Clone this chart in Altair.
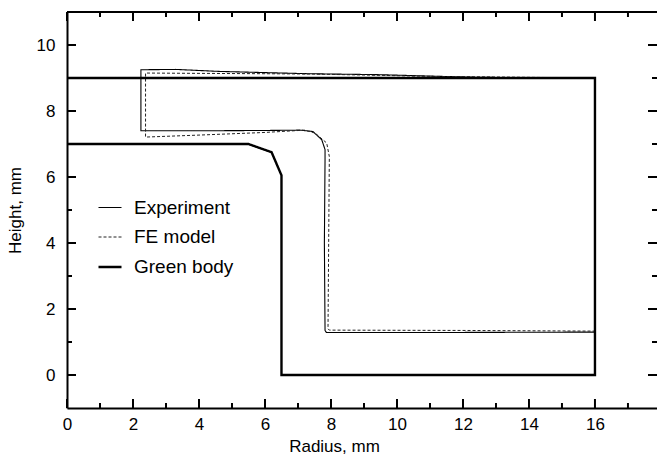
import altair as alt
import pandas as pd

# ---- data ----
series_names = ["Experiment", "FE model", "Green body"]

exp_x = [16, 14, 12.5, 11.3, 9.5, 7.3, 4.6, 3.3, 2.24, 2.24, 4.0, 6.0, 7.06, 7.45, 7.72, 7.82, 7.82, 7.8, 7.82, 7.86, 12, 16, 16]
exp_y = [9.0, 9.01, 9.02, 9.05, 9.1, 9.13, 9.2, 9.26, 9.25, 7.4, 7.4, 7.41, 7.42, 7.38, 7.13, 6.83, 6.52, 4.0, 1.35, 1.29, 1.29, 1.3, 9.0]

fe_x = [16, 13, 11, 9, 7.4, 6, 4, 2.38, 2.38, 4, 6, 7.2, 7.52, 7.87, 7.95, 7.93, 7.91, 7.95, 12, 16]
fe_y = [9.0, 9.03, 9.05, 9.09, 9.12, 9.13, 9.14, 9.15, 7.21, 7.27, 7.35, 7.42, 7.33, 7.03, 6.62, 4.0, 1.4, 1.36, 1.35, 1.33]

green_x = [0, 5.5, 6.2, 6.5, 6.5, 16, 16, 0]
green_y = [7, 7, 6.75, 6.05, 0, 0, 9, 9]

x_major = [0, 2, 4, 6, 8, 10, 12, 14, 16]
x_minor = [1, 3, 5, 7, 9, 11, 13, 15, 17]
y_major = [0, 2, 4, 6, 8, 10]
y_minor = [1, 3, 5, 7, 9]

# ---- build table ----
rows = []
for name, xs, ys in [("Experiment", exp_x, exp_y), ("FE model", fe_x, fe_y), ("Green body", green_x, green_y)]:
    for i, (a, b) in enumerate(zip(xs, ys)):
        rows.append({"series": name, "order": i, "x": a, "y": b})
df = pd.DataFrame(rows)

W, H = 590, 396
FONT = "Liberation Sans"

xscale = alt.Scale(domain=[0, 17.88], nice=False, zero=False)
yscale = alt.Scale(domain=[-1, 11], nice=False, zero=False)

xaxis = alt.Axis(
    values=x_major, ticks=False, grid=False, domainWidth=2, domainColor="black",
    labelFontSize=17, labelPadding=8, labelColor="black", labelFlush=False,
    title="Radius, mm", titleFontSize=17, titleFontWeight="normal", titleColor="black",
    titlePadding=6, titleX=267)
yaxis = alt.Axis(
    values=y_major, ticks=False, grid=False, domainWidth=2, domainColor="black",
    labelFontSize=17, labelPadding=12, labelColor="black", labelFlush=False,
    title="Height, mm", titleFontSize=17, titleFontWeight="normal", titleColor="black",
    titlePadding=12)

legend = alt.Legend(
    title=None, orient="none", legendX=30, legendY=183,
    symbolType="stroke", symbolSize=529, labelFontSize=19, labelFont=FONT,
    labelOffset=11, rowPadding=7, padding=0, labelColor="black",
)

lines = alt.Chart(df).mark_line(clip=True).encode(
    x=alt.X("x:Q", scale=xscale, axis=xaxis),
    y=alt.Y("y:Q", scale=yscale, axis=yaxis),
    order="order:Q",
    color=alt.Color("series:N", scale=alt.Scale(type="ordinal", domain=series_names, range=["black", "#222222", "black"]), legend=legend),
    strokeDash=alt.StrokeDash("series:N", scale=alt.Scale(type="ordinal", domain=series_names, range=[[1, 0], [3, 2], [1, 0]]), legend=legend),
    strokeWidth=alt.StrokeWidth("series:N", scale=alt.Scale(type="ordinal", domain=series_names, range=[1.1, 1.0, 2.4]), legend=legend),
)

xmaj = pd.DataFrame({"x": x_major})
xmin = pd.DataFrame({"x": x_minor})
ymaj = pd.DataFrame({"y": y_major})
ymin = pd.DataFrame({"y": y_minor})

def xt(d, length, top):
    if top:
        return alt.Chart(d).mark_rule(strokeWidth=2, color="black").encode(
            x=alt.X("x:Q", scale=xscale, axis=xaxis), y=alt.value(0), y2=alt.value(length))
    return alt.Chart(d).mark_rule(strokeWidth=2, color="black").encode(
        x=alt.X("x:Q", scale=xscale, axis=xaxis), y=alt.value(H), y2=alt.value(H - length))

def yt(d, length, right):
    if right:
        return alt.Chart(d).mark_rule(strokeWidth=2, color="black").encode(
            y=alt.Y("y:Q", scale=yscale, axis=yaxis), x=alt.value(W), x2=alt.value(W - length))
    return alt.Chart(d).mark_rule(strokeWidth=2, color="black").encode(
        y=alt.Y("y:Q", scale=yscale, axis=yaxis), x=alt.value(0), x2=alt.value(length))

top_border = alt.Chart(pd.DataFrame({"v": [0]})).mark_rule(strokeWidth=2, color="black").encode(
    x=alt.value(0), x2=alt.value(W), y=alt.value(0))

chart = alt.layer(
    lines,
    top_border,
    xt(xmaj, 9, False), xt(xmin, 5, False), xt(xmaj, 9, True), xt(xmin, 5, True),
    yt(ymaj, 9, False), yt(ymin, 5, False), yt(ymaj, 9, True), yt(ymin, 5, True),
).properties(
    width=W, height=H,
    autosize=alt.AutoSizeParams(type="none"),
    padding={"left": 67, "top": 12, "right": 0, "bottom": 51},
    background="white",
).configure(font=FONT).configure_view(stroke=None)

chart.save("out.html", embed_options={"renderer": "svg", "actions": False})
